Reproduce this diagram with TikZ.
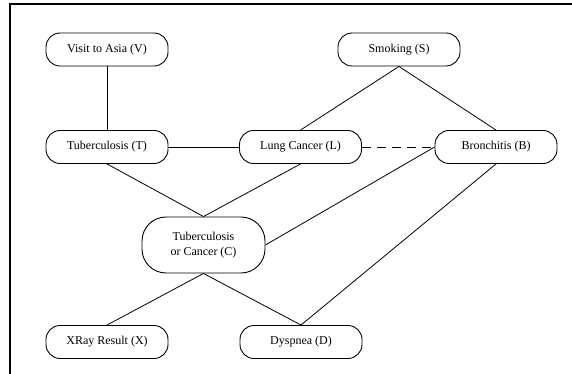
\documentclass[tikz,border=0pt]{standalone}
\usepackage{fontspec}
\setmainfont{Liberation Serif}
\begin{document}
\begin{tikzpicture}[x=1pt,y=-1pt,
  var/.style={draw, line width=0.9pt, rounded corners=14pt, minimum width=122pt,
    minimum height=33pt, inner sep=2pt, align=center,
    font=\fontsize{12}{15}\selectfont},
  bigvar/.style={var, minimum width=123pt, minimum height=56pt, rounded corners=24pt},
  link/.style={line width=0.8pt},
  weak/.style={link, dash pattern=on 9pt off 6pt}]
  \useasboundingbox (0,0) rectangle (572,374);
  % frame along the top and left edges
  \draw[line width=1.6pt] (10,374) -- (10,4) -- (572,4);

  % variables
  \node[var] (V) at (107,49.5) {Visit to Asia (V)};
  \node[var] (S) at (399,49.5) {Smoking (S)};
  \node[var] (T) at (107,147) {Tuberculosis (T)};
  \node[var] (L) at (300.5,147) {Lung Cancer (L)};
  \node[var] (B) at (496,147) {Bronchitis (B)};
  \node[bigvar] (C) at (203.5,245) {Tuberculosis\\or Cancer (C)};
  \node[var] (X) at (107,342) {XRay Result (X)};
  \node[var] (D) at (301,342) {Dyspnea (D)};

  % links
  \draw[link] (V) -- (T);
  \draw[link] (S.south) -- (L.north);
  \draw[link] (S.south) -- (B.north);
  \draw[link] (T) -- (L);
  \draw[weak] (L) -- (B);
  \draw[link] (T.south) -- (C.north);
  \draw[link] (L.south) -- (C.north);
  \draw[link] (B.west) -- (C.east);
  \draw[link] (B.south) -- (D.north);
  \draw[link] (C.south) -- (X.north);
  \draw[link] (C.south) -- (D.north);
\end{tikzpicture}
\end{document}
